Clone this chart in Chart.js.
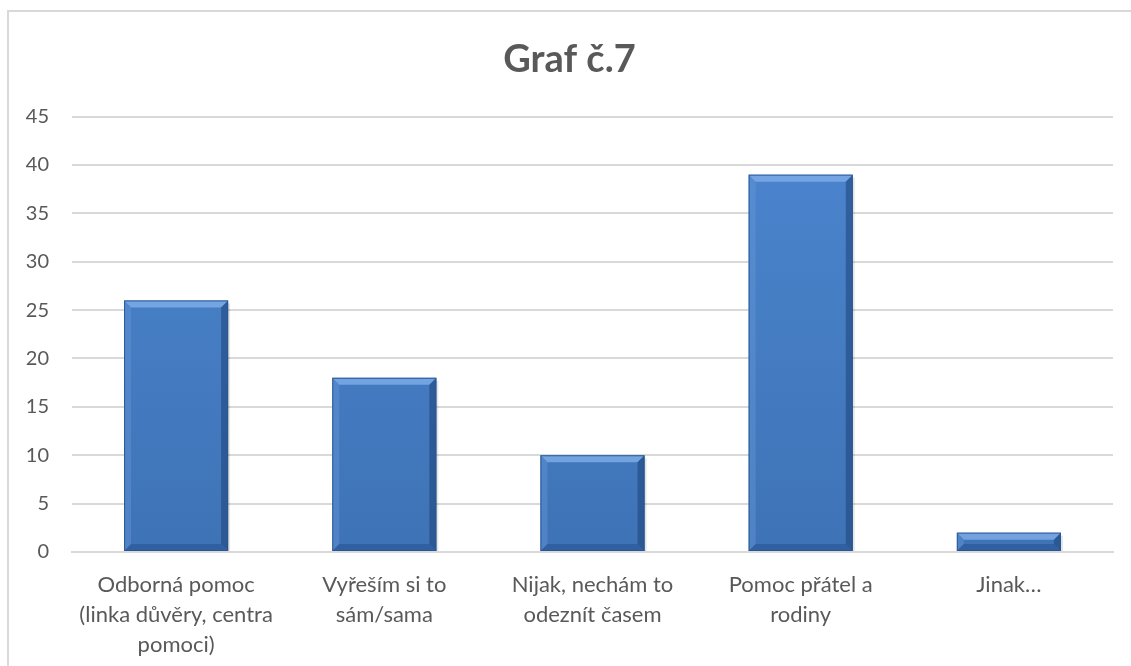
<!DOCTYPE html>
<html><head><meta charset="utf-8">
<script src="https://cdn.jsdelivr.net/npm/chart.js@4"></script>
<style>html,body{margin:0;padding:0;background:#fff;}#wrap{width:1131px;height:666px;position:relative;}</style>
</head><body><div id="wrap"><canvas id="c" width="1131" height="666"></canvas></div>
<script>
const categories = [["Odborná pomoc","(linka důvěry, centra","pomoci)"],["Vyřeším si to","sám/sama"],["Nijak, nechám to","odeznít časem"],["Pomoc přátel a","rodiny"],["Jinak…"]];
const values = [26, 18, 10, 39, 2];
const titleText = "Graf č.7";

const frame = {id:'frame', beforeDraw(chart){const c=chart.ctx;c.save();c.strokeStyle='#d9d9d9';c.lineWidth=2;c.strokeRect(8,11,1200,1000);c.restore();}};
const bevel = {id:'bevel', afterDatasetsDraw(chart){
  const c=chart.ctx; const meta=chart.getDatasetMeta(0);
  meta.data.forEach(b=>{
    const l=b.x-b.width/2, r=b.x+b.width/2, t=b.y, btm=b.base; const d=Math.min(7,(btm-t)/2);
    c.save();
    c.fillStyle='rgba(125,170,230,0.85)';
    c.beginPath();c.moveTo(l,t);c.lineTo(r,t);c.lineTo(r-d,t+d);c.lineTo(l+d,t+d);c.closePath();c.fill();
    c.fillStyle='rgba(100,150,215,0.45)';
    c.beginPath();c.moveTo(l,t);c.lineTo(l+d,t+d);c.lineTo(l+d,btm-d);c.lineTo(l,btm);c.closePath();c.fill();
    c.fillStyle='rgba(30,65,120,0.55)';
    c.beginPath();c.moveTo(r,t);c.lineTo(r,btm);c.lineTo(r-d,btm-d);c.lineTo(r-d,t+d);c.closePath();c.fill();
    c.fillStyle='rgba(35,75,135,0.5)';
    c.beginPath();c.moveTo(l,btm);c.lineTo(r,btm);c.lineTo(r-d,btm-d);c.lineTo(l+d,btm-d);c.closePath();c.fill();
    c.strokeStyle='rgba(40,85,145,0.9)';c.lineWidth=1;c.strokeRect(l+0.5,t+0.5,r-l-1,btm-t-1);
    c.fillStyle='rgba(0,0,0,0.10)';c.fillRect(r,t+3,2,btm-t-3);
    c.restore();
  });
}};

new Chart(document.getElementById('c'), {
  type:'bar',
  data:{labels:categories, datasets:[{data:values,
    backgroundColor:(ctx)=>{const ch=ctx.chart; const ca=ch.chartArea; if(!ca) return '#4a7ebb';
      const g=ch.ctx.createLinearGradient(0,ca.top,0,ca.bottom); g.addColorStop(0,'#4c86cf'); g.addColorStop(1,'#3e73b6'); return g;},
    borderWidth:0, barPercentage:0.5, categoryPercentage:1}]},
  options:{responsive:false, animation:false,
    layout:{padding:{left:26,right:18,top:0,bottom:6}},
    plugins:{legend:{display:false}, tooltip:{enabled:false},
      title:{display:true,text:titleText,color:'#595959',font:{family:'Lato',size:38,weight:'bold',lineHeight:1.2},padding:{top:37,bottom:34}}},
    scales:{
      x:{grid:{display:false,drawTicks:false},border:{color:'#d9d9d9',width:2},ticks:{color:'#595959',font:{family:'Lato',size:22,lineHeight:1.364},padding:18,maxRotation:0,autoSkip:false},
         afterFit(s){s.height=108;s.paddingLeft=0;s.paddingRight=0;}},
      y:{min:0,max:45,ticks:{stepSize:5,color:'#595959',font:{family:'Lato',size:20},padding:23},grid:{color:'#d9d9d9',lineWidth:2,drawTicks:false},border:{display:false},
         afterFit(s){s.width=46;}}
    }},
  plugins:[frame,bevel]
});
</script></body></html>
